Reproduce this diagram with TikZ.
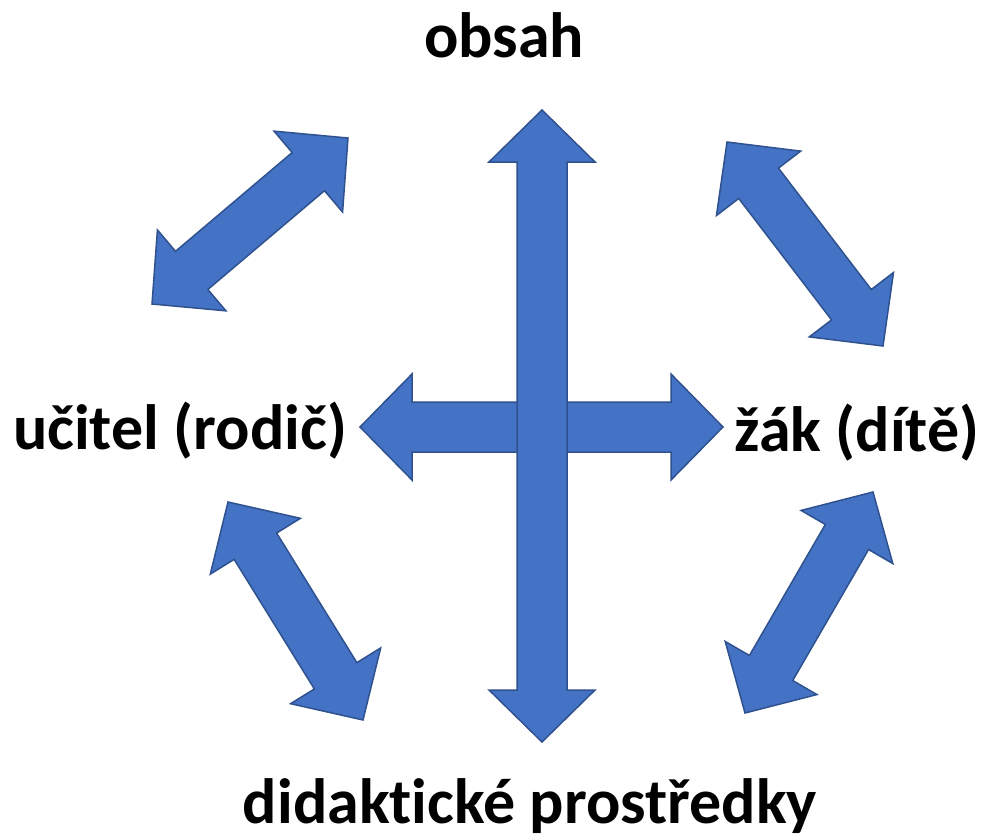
\documentclass[tikz,border=0pt]{standalone}
\usepackage{fontspec}
\setmainfont{Carlito}[Ligatures=NoCommon]
\usetikzlibrary{calc,positioning}
\definecolor{arrblue}{HTML}{4472C4}
\definecolor{arrline}{HTML}{2F528F}

% block double arrow between two tips
\newcommand{\biarrow}[2]{%
	\coordinate (#1h) at ($(#1)!52pt!(#2)$);
	\coordinate (#2h) at ($(#2)!52pt!(#1)$);
	\draw[arr] (#1) -- ($(#1h)!53pt!90:(#2)$) -- ($(#1h)!25pt!90:(#2)$)
		-- ($(#2h)!25pt!-90:(#1)$) -- ($(#2h)!53pt!-90:(#1)$) -- (#2)
		-- ($(#2h)!53pt!90:(#1)$) -- ($(#2h)!25pt!90:(#1)$)
		-- ($(#1h)!25pt!-90:(#2)$) -- ($(#1h)!53pt!-90:(#2)$) -- cycle;}

\begin{document}
\begin{tikzpicture}[x=1pt,y=-1pt,
	arr/.style={draw=arrline,fill=arrblue,line width=1.5pt,line join=miter},
	lbl/.style={font=\bfseries\fontsize{64}{72}\selectfont,inner sep=0pt}]
	\useasboundingbox (0,0) rectangle (985,833);
	\coordinate (tla) at (152,304);
	\coordinate (tlb) at (348,138);
	\coordinate (tra) at (727,142);
	\coordinate (trb) at (883,346);
	\coordinate (bla) at (228,502);
	\coordinate (blb) at (363,720);
	\coordinate (bra) at (873,492);
	\coordinate (brb) at (745,713);
	\coordinate (hl) at (360,427);
	\coordinate (hr) at (723,427);
	\coordinate (vt) at (542,110);
	\coordinate (vb) at (542,742);
	\biarrow{tla}{tlb}
	\biarrow{tra}{trb}
	\biarrow{bla}{blb}
	\biarrow{bra}{brb}
	\biarrow{hl}{hr}
	\biarrow{vt}{vb}
	\node[lbl,anchor=base] (obsah) at (504,57) {obsah};
	\node[lbl,anchor=base] (ucitel) at (180,449) {učitel (rodič)};
	\node[lbl,anchor=base] (zak) at (857,451) {žák (dítě)};
	\node[lbl,anchor=base] (prostr) at (530,823) {didaktické prostředky};
\end{tikzpicture}
\end{document}
